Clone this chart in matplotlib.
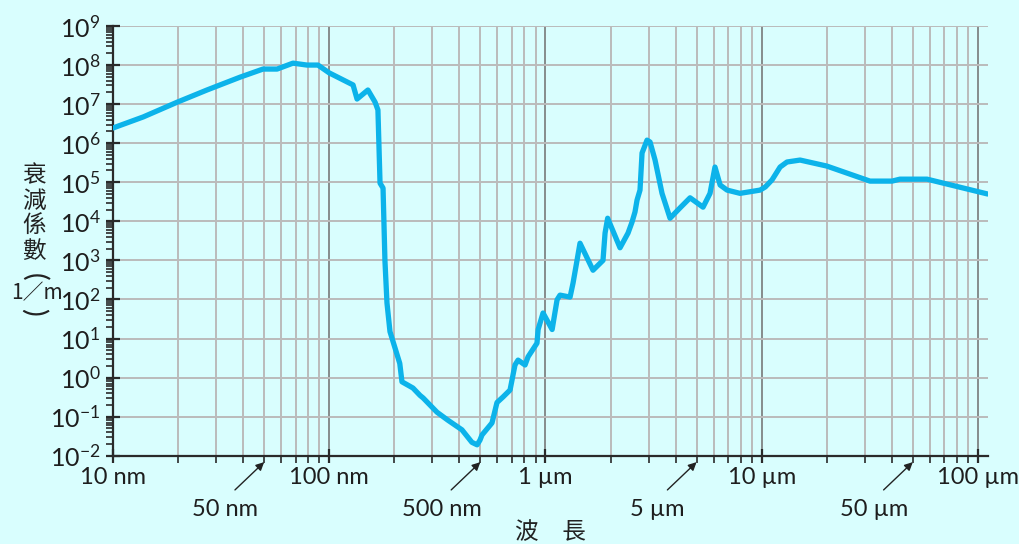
import numpy as np
import matplotlib
matplotlib.use("Agg")
import matplotlib.pyplot as plt
from matplotlib.ticker import LogLocator, FixedLocator, FixedFormatter, NullFormatter

# wavelength (nm) and attenuation coefficient (1/m)
wavelength_nm = [10, 13.8, 19.8, 27.2, 38.7, 49.4, 57.4, 68, 78.9, 88.7, 100,
                 128.9, 134.5, 151, 163, 168, 171.8, 177.4, 181, 185, 191, 201,
                 212, 217, 244, 263, 272, 315, 354, 411, 457, 483, 498, 509,
                 566, 597, 637, 686, 723, 747, 805, 831, 914, 925, 975, 1074,
                 1132, 1168, 1300, 1342, 1400, 1445, 1660, 1846, 1887, 1940,
                 2213, 2410, 2514, 2596, 2653, 2738, 2798, 2951, 3047, 3214,
                 3461, 3770, 4190, 4666, 5357, 5771, 6084, 6426, 6920, 7943,
                 9840, 10400, 11170, 12170, 13100, 15060, 20000, 31700, 40100,
                 43600, 58200, 111000]
attenuation = [2.45e6, 4.7e6, 1.12e7, 2.3e7, 4.9e7, 7.9e7, 7.9e7, 1.12e8, 1.0e8,
               1.0e8, 6.3e7, 3.1e7, 1.35e7, 2.3e7, 1.12e7, 7.1e6, 9.5e4, 7.1e4,
               1.0e3, 81, 15, 6.0, 2.3, 0.78, 0.54, 0.35, 0.30, 0.13, 0.081,
               0.046, 0.022, 0.019, 0.025, 0.034, 0.069, 0.23, 0.32, 0.48, 2.1,
               2.8, 2.1, 3.4, 7.6, 17, 45, 17, 98, 129, 115, 263, 1.0e3, 2.75e3,
               560, 1.0e3, 5.0e3, 1.2e4, 2.1e3, 5.0e3, 9.5e3, 1.74e4, 3.5e4,
               6.3e4, 5.6e5, 1.2e6, 1.07e6, 3.7e5, 5.2e4, 1.2e4, 2.2e4, 4.0e4,
               2.3e4, 5.2e4, 2.45e5, 8.5e4, 6.3e4, 5.2e4, 6.3e4, 7.6e4, 1.15e5,
               2.45e5, 3.3e5, 3.7e5, 2.6e5, 1.07e5, 1.07e5, 1.2e5, 1.2e5, 5.0e4]

xtick_vals = [10, 100, 1000, 10000, 100000]
xtick_labels = ["10 nm", "100 nm", "1 µm", "10 µm", "100 µm"]
arrow_vals = [50, 500, 5000, 50000]
arrow_labels = ["50 nm", "500 nm", "5 µm", "50 µm"]
ytick_exps = list(range(-2, 10))

latin = ["Lato", "DejaVu Sans"]
cjk = ["Noto Sans CJK TC", "DejaVu Sans"]
plt.rcParams["font.family"] = latin
plt.rcParams["mathtext.default"] = "regular"

bg = "#d9fefe"
ink = "#1e1e1e"
fig = plt.figure(figsize=(10.19, 5.44), dpi=100, facecolor=bg)
ax = fig.add_axes([113 / 1019, 88.3 / 544, 875 / 1019, 429.7 / 544])
ax.set_facecolor(bg)
ax.set_xscale("log")
ax.set_yscale("log")
ax.set_xlim(10, 111400)
ax.set_ylim(1e-2, 1e9)

ax.plot(wavelength_nm, attenuation, color="#0cb3ea", lw=3.8,
        solid_joinstyle="round", solid_capstyle="round", zorder=3)

# grid
ax.xaxis.set_major_locator(FixedLocator(xtick_vals))
ax.xaxis.set_major_formatter(FixedFormatter(xtick_labels))
ax.xaxis.set_minor_locator(LogLocator(base=10, subs=np.arange(2, 10), numticks=20))
ax.xaxis.set_minor_formatter(NullFormatter())
ax.yaxis.set_major_locator(FixedLocator([10.0 ** e for e in ytick_exps]))
ax.yaxis.set_major_formatter(FixedFormatter(["$10^{%d}$" % e for e in ytick_exps]))
ax.yaxis.set_minor_locator(LogLocator(base=10, subs=np.arange(2, 10), numticks=20))
ax.yaxis.set_minor_formatter(NullFormatter())

ax.grid(which="major", axis="y", color="#bbbbbb", lw=1.4, zorder=1)
ax.grid(which="minor", axis="x", color="#bbbbbb", lw=1.4, zorder=1)
ax.grid(which="major", axis="x", color="#6e6e6e", lw=1.1, zorder=1)

for s in ["top", "right"]:
    ax.spines[s].set_visible(False)
for s in ["left", "bottom"]:
    ax.spines[s].set_color("#2a2a2a")
    ax.spines[s].set_linewidth(1.6)

ax.tick_params(which="major", direction="inout", length=10, width=1.6,
               color="#2a2a2a", labelsize=17, labelcolor=ink)
ax.tick_params(which="minor", direction="out", length=5, width=1.2,
               color="#2a2a2a")
ax.tick_params(axis="x", which="major", pad=3)
ax.tick_params(axis="y", which="major", pad=4, labelsize=18)

# arrows pointing to the 5x ticks
for v, lab in zip(arrow_vals, arrow_labels):
    ax.annotate("", xy=(v, -0.015), xycoords=("data", "axes fraction"),
                xytext=(-21, -20), textcoords="offset points",
                arrowprops=dict(arrowstyle="-|>", color="#222222", lw=1.0,
                                mutation_scale=12, shrinkA=0, shrinkB=0))
    ax.annotate(lab, xy=(v, -0.015), xycoords=("data", "axes fraction"),
                xytext=(-28, -34), textcoords="offset points",
                ha="center", va="center", fontsize=17, color=ink)

# axis labels
fig.text(550 / 1019, 1 - 533 / 544, "波　長", family=cjk, fontsize=17,
         ha="center", va="center", color="#222222")
for ch, yp in zip("衰減係數", [176, 201, 226, 251]):
    fig.text(34 / 1019, 1 - yp / 544, ch, family=cjk, fontsize=17,
             ha="center", va="center", color="#222222")
fig.text(34 / 1019, 1 - 277 / 544, "(", fontsize=21, rotation=-90,
         ha="center", va="center", color="#222222")
fig.text(37 / 1019, 1 - 293 / 544, "1／m", family=cjk, fontsize=15,
         ha="center", va="center", color="#222222")
fig.text(34 / 1019, 1 - 312 / 544, ")", fontsize=21, rotation=-90,
         ha="center", va="center", color="#222222")

fig.savefig("out.png", dpi=100, facecolor=bg)
